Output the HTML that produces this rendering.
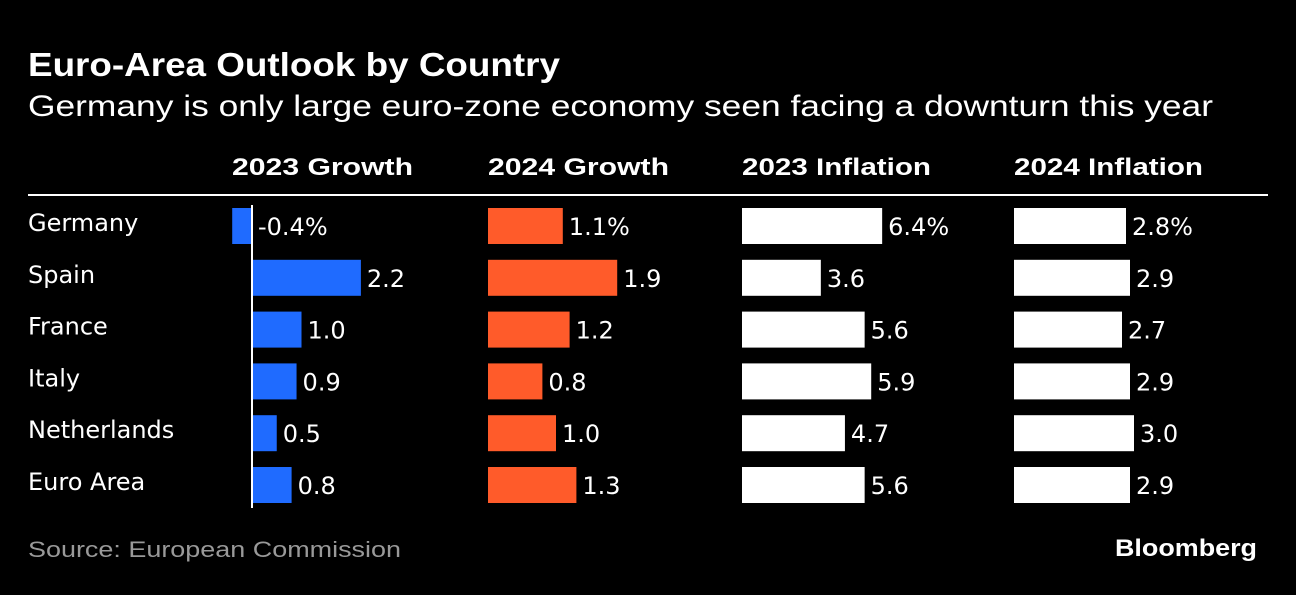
<!DOCTYPE html>
<html><head><meta charset="utf-8"><style>
body{margin:0;background:#000;width:1296px;height:590px;overflow:hidden;font-family:"Liberation Sans",sans-serif;color:#fff}
svg text{font-family:"Liberation Sans",sans-serif}
svg text.lab{font-family:"DejaVu Sans",sans-serif}
</style></head><body>
<svg id="chart" width="1296" height="590" xmlns="http://www.w3.org/2000/svg">
<text x="28" y="76" font-size="33" font-weight="bold" fill="#fff" textLength="532" lengthAdjust="spacingAndGlyphs">Euro-Area Outlook by Country</text>
<text x="28" y="116" font-size="30" fill="#fff" textLength="1185" lengthAdjust="spacingAndGlyphs">Germany is only large euro-zone economy seen facing a downturn this year</text>
<line x1="28" y1="195" x2="1268" y2="195" stroke="#fff" stroke-width="2"/>
<text x="28" y="557" font-size="22" fill="#999" textLength="373" lengthAdjust="spacingAndGlyphs">Source: European Commission</text>
<text x="1115" y="556" font-size="24" font-weight="bold" fill="#fff" textLength="142" lengthAdjust="spacingAndGlyphs">Bloomberg</text>
<g id="marks"></g>
</svg>
<script>
const countries=["Germany","Spain","France","Italy","Netherlands","Euro Area"];
const growth2023=[-0.4,2.2,1.0,0.9,0.5,0.8];
const growth2024=[1.1,1.9,1.2,0.8,1.0,1.3];
const inflation2023=[6.4,3.6,5.6,5.9,4.7,5.6];
const inflation2024=[2.8,2.9,2.7,2.9,3.0,2.9];
const labels2023g=["-0.4%","2.2","1.0","0.9","0.5","0.8"];
const labels2024g=["1.1%","1.9","1.2","0.8","1.0","1.3"];
const labels2023i=["6.4%","3.6","5.6","5.9","4.7","5.6"];
const labels2024i=["2.8%","2.9","2.7","2.9","3.0","2.9"];
const headers=["2023 Growth","2024 Growth","2023 Inflation","2024 Inflation"];
const headerW=[181,181,189,189];

const NS="http://www.w3.org/2000/svg";
const g=document.getElementById('marks');
function el(t,a){const e=document.createElementNS(NS,t);for(const k in a)e.setAttribute(k,a[k]);g.appendChild(e);return e;}
const rowY=i=>226+i*51.8;
const cols=[
 {name:"growth-2023",vals:growth2023,labs:labels2023g,x0:252,scale:49.5,color:"#1f6bff",hx:232},
 {name:"growth-2024",vals:growth2024,labs:labels2024g,x0:488,scale:68,color:"#ff5b2a",hx:488},
 {name:"inflation-2023",vals:inflation2023,labs:labels2023i,x0:742,scale:21.9,color:"#ffffff",hx:742},
 {name:"inflation-2024",vals:inflation2024,labs:labels2024i,x0:1014,scale:40,color:"#ffffff",hx:1014}
];
cols.forEach((c,ci)=>{
 const h=el('text',{x:c.hx,y:175,'font-size':24,'font-weight':'bold',fill:'#fff',textLength:headerW[ci],lengthAdjust:'spacingAndGlyphs'});
 
 
 h.textContent=headers[ci];
});
countries.forEach((n,i)=>{
 const t=el('text',{x:28,y:rowY(i)+5,'font-size':24,fill:'#fff','class':'lab'});
 
 
 t.textContent=n;
 cols.forEach(c=>{
  const v=c.vals[i];const w=Math.abs(v)*c.scale;
  const x=v<0?c.x0-w:c.x0;
  const r=el('rect',{x:x,y:rowY(i)-18,width:w,height:36,fill:c.color});
  
  
  const lx=v<0?c.x0+6:c.x0+w+6;
  const l=el('text',{x:lx,y:rowY(i)+9,'font-size':24,fill:'#fff','class':'lab'});
  
  
  l.textContent=c.labs[i];
 });
});
const z=el('line',{x1:252,y1:205,x2:252,y2:508,stroke:'#fff','stroke-width':2});


</script>
</body></html>
